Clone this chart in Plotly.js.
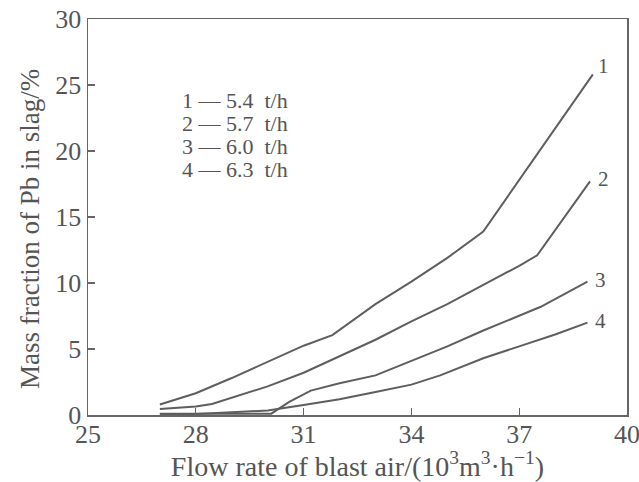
<!DOCTYPE html>
<html>
<head>
<meta charset="utf-8">
<script src="https://cdn.plot.ly/plotly-3.0.1.min.js"></script>
<style>html,body{margin:0;padding:0;background:#fff;}#chart{width:639px;height:482px;}</style>
</head>
<body>
<div id="chart"></div>
<script>
// Series data
const curveIds = ['1', '2', '3', '4'];
const rates = ['5.4', '5.7', '6.0', '6.3'];

const x1 = [27, 28, 29, 30, 31, 31.8, 33, 34, 35, 36, 39.05];
const y1 = [0.8, 1.65, 2.8, 4.0, 5.25, 6.05, 8.4, 10.1, 11.9, 13.9, 25.8];

const x2 = [27, 28, 28.45, 29, 30, 31, 32, 33, 34, 35, 36, 37, 37.5, 38.97];
const y2 = [0.45, 0.65, 0.83, 1.3, 2.17, 3.2, 4.45, 5.7, 7.1, 8.4, 9.85, 11.3, 12.1, 17.7];

const x3 = [27, 28, 29, 30.1, 30.6, 31.2, 32, 33, 34, 35, 36, 37, 37.6, 38.9];
const y3 = [0.1, 0.1, 0.1, 0.1, 1.0, 1.85, 2.4, 3.0, 4.1, 5.2, 6.4, 7.5, 8.2, 10.1];

const x4 = [27, 28, 29, 30, 31, 32, 33, 34, 34.8, 36, 37, 38, 38.9];
const y4 = [0.05, 0.08, 0.2, 0.35, 0.75, 1.2, 1.75, 2.3, 3.0, 4.3, 5.2, 6.1, 7.0];

const xTicks = [25, 28, 31, 34, 37, 40];
const yTicks = [0, 5, 10, 15, 20, 25, 30];

const xTitle = 'Flow rate of blast air/(10<sup>3</sup>m<sup>3</sup>\u00b7h<sup>\u22121</sup>)';
const yTitle = 'Mass fraction of Pb in slag/%';

const xs = [x1, x2, x3, x4];
const ys = [y1, y2, y3, y4];

const ink = '#555555';
const serif = 'Liberation Serif, Times New Roman, serif';

const traces = xs.map((x, i) => ({
  x: x, y: ys[i], type: 'scatter', mode: 'lines',
  line: {color: '#5e5e5e', width: 2},
  showlegend: false, hoverinfo: 'skip'
}));

const annotations = [];
// curve end labels
xs.forEach((x, i) => {
  annotations.push({
    x: x[x.length - 1], y: ys[i][ys[i].length - 1], xref: 'x', yref: 'y',
    text: curveIds[i], showarrow: false, xanchor: 'left', yanchor: 'middle',
    xshift: i === 0 ? 3 : 6, yshift: i === 0 ? 8 : 2,
    font: {family: serif, size: 21, color: ink}
  });
});
// legend block
curveIds.forEach((id, i) => {
  annotations.push({
    x: 0.171, y: 0.795 - i * 0.058, xref: 'paper', yref: 'paper',
    text: id + '\u00a0\u2014\u00a0' + rates[i] + '\u00a0\u00a0t/h', showarrow: false,
    xanchor: 'left', yanchor: 'middle',
    font: {family: serif, size: 22, color: ink}
  });
});
// y axis title (placed as in the reference, slightly below the plot centre)
annotations.push({
  x: -0.1076, y: 0.47, xref: 'paper', yref: 'paper', textangle: -90,
  text: yTitle, showarrow: false, xanchor: 'center', yanchor: 'middle',
  font: {family: serif, size: 27, color: ink}
});

const layout = {
  width: 639, height: 482,
  margin: {l: 88, r: 12, t: 19, b: 67},
  paper_bgcolor: '#ffffff', plot_bgcolor: '#ffffff',
  font: {family: serif, color: ink},
  xaxis: {
    range: [25, 40], tickvals: xTicks, ticks: 'inside', ticklen: 7, tickwidth: 1.3,
    tickcolor: '#666', showline: true, linecolor: '#666', linewidth: 1.5, mirror: true,
    showgrid: false, zeroline: false, ticklabelstandoff: -5, ticklabeloverflow: 'allow',
    tickfont: {family: serif, size: 26, color: ink},
    title: {text: xTitle, font: {family: serif, size: 28, color: ink}, standoff: 6}
  },
  yaxis: {
    range: [0, 30], tickvals: yTicks, ticks: 'inside', ticklen: 7, tickwidth: 1.3,
    tickcolor: '#666', showline: true, linecolor: '#666', linewidth: 1.5, mirror: true,
    showgrid: false, zeroline: false, ticklabeloverflow: 'allow',
    tickfont: {family: serif, size: 26, color: ink}
  },
  annotations: annotations
};

Plotly.newPlot('chart', traces, layout, {displayModeBar: false, staticPlot: true});
</script>
</body>
</html>
